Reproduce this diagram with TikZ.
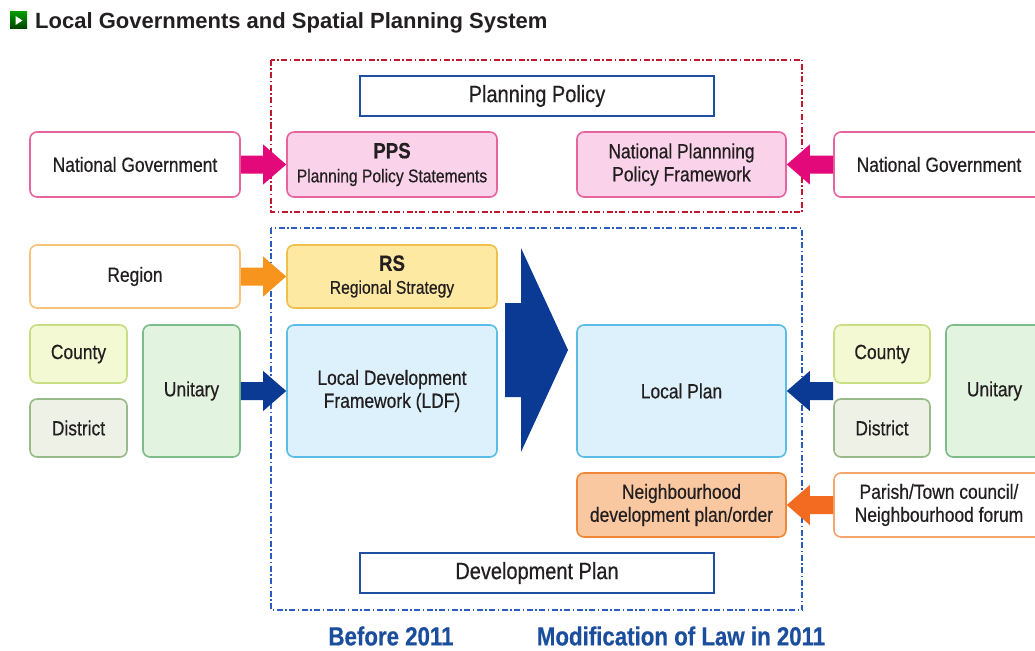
\documentclass[tikz,border=0pt]{standalone}
\usepackage{fontspec}
\setmainfont{Liberation Sans}
\newfontfamily\cond[FakeStretch=0.85,FakeBold=0.5]{Liberation Sans}
\usetikzlibrary{calc}
\definecolor{txt}{HTML}{231F20}
\definecolor{pinkA}{HTML}{E4097A}
\definecolor{pinkB}{HTML}{E8649E}
\definecolor{pinkF}{HTML}{FAD3EA}
\definecolor{orgA}{HTML}{F7941D}
\definecolor{orgB}{HTML}{F7C27A}
\definecolor{yelF}{HTML}{FDE9A1}
\definecolor{yelB}{HTML}{F0C04E}
\definecolor{blueA}{HTML}{0B3A94}
\definecolor{ldfF}{HTML}{DCF1FB}
\definecolor{ldfB}{HTML}{5BBDE6}
\definecolor{cntF}{HTML}{F3F9D2}
\definecolor{cntB}{HTML}{C9DD83}
\definecolor{dstF}{HTML}{EEF2E6}
\definecolor{dstB}{HTML}{98B98A}
\definecolor{uniF}{HTML}{E2F3DF}
\definecolor{uniB}{HTML}{7DBB89}
\definecolor{nbhF}{HTML}{FAC8A0}
\definecolor{nbhB}{HTML}{F0883A}
\definecolor{parB}{HTML}{F5A56D}
\definecolor{parA}{HTML}{F36A21}
\definecolor{hdrB}{HTML}{1F4FA0}
\definecolor{redD}{HTML}{C0182E}
\definecolor{bluD}{HTML}{2B5DC0}
\definecolor{lblB}{HTML}{1C4E9E}
\newcommand\bodyf{\cond\fontsize{20.5}{23}\selectfont}
\newcommand\headf{\cond\fontsize{23.5}{26}\selectfont}
\newcommand\smallf{\cond\fontsize{18.4}{22}\selectfont}
\newcommand\bigbf{\cond\bfseries\fontsize{22}{22}\selectfont}
\newcommand\lblf{\cond\bfseries\fontsize{26.2}{28}\selectfont}
\newcommand\blockarrow[3]{%
  \fill[#3] let \p1=(#1), \p2=(#2), \n1={ifthenelse(\x2>\x1,1,-1)} in
    (\x1,\y1+9pt) -- (\x2-\n1*23pt,\y1+9pt) -- (\x2-\n1*23pt,\y1+20pt) -- (\x2,\y1)
    -- (\x2-\n1*23pt,\y1-20pt) -- (\x2-\n1*23pt,\y1-9pt) -- (\x1,\y1-9pt) -- cycle;}
\tikzset{
  rbox/.style={draw, rounded corners=7pt, line width=1.6pt, align=center,
    font=\bodyf, text=txt, inner sep=0pt},
  hdr/.style={draw=hdrB, fill=white, line width=2.5pt, minimum width=354pt,
    minimum height=40pt, font=\headf, text=txt, inner sep=0pt},
  redbox/.style={draw=redD, line width=2pt, dash pattern=on 6pt off 2.5pt on 1.5pt off 2.5pt},
  bluebox/.style={draw=bluD, line width=2pt, dash pattern=on 6pt off 2.5pt on 1.5pt off 2.5pt},
  lbl/.style={font=\lblf, text=lblB, inner sep=0pt}
}
\begin{document}
\begin{tikzpicture}[x=1pt,y=-1pt]
\useasboundingbox (0,0) rectangle (1035,650);
\clip (0,0) rectangle (1035,650);
\fill[white] (0,0) rectangle (1035,650);
% title
\shade[top color=green!60!black, bottom color=green!25!black] (10,12) rectangle (27,29);
\fill[white] (15.5,16) -- (15.5,25) -- (22.5,20.5) -- cycle;
\node[anchor=base west, inner sep=0pt, text=txt, font=\bfseries\fontsize{22}{24}\selectfont] (title) at (35,28.5) {Local Governments and Spatial Planning System};
% dashed frames
\draw[redbox] (271,60) rectangle (802,212);
\draw[bluebox] (271,228) rectangle (802,610);
% headers
\node[hdr] (pp) at (537,96) {Planning Policy};
\node[hdr] (dp) at (537,573) {Development Plan};
% top row
\node[rbox, draw=pinkB, fill=white, minimum width=210pt, minimum height=65pt] (ngL) at (135,164.5) {National Government};
\node[rbox, draw=pinkB, fill=pinkF, minimum width=210pt, minimum height=65pt] (pps) at (392,164.5) {{\bigbf PPS}\\[1pt]{\smallf Planning Policy Statements}};
\node[rbox, draw=pinkB, fill=pinkF, minimum width=209pt, minimum height=65pt] (nppf) at (681.5,164.5) {National Plannning\\Policy Framework};
\node[rbox, draw=pinkB, fill=white, minimum width=210pt, minimum height=65pt] (ngR) at (939,164.5) {National Government};
% region row
\node[rbox, draw=orgB, fill=white, minimum width=210pt, minimum height=63pt] (region) at (135,276.5) {Region};
\node[rbox, draw=yelB, fill=yelF, minimum width=210pt, minimum height=63pt] (rs) at (392,276.5) {{\bigbf RS}\\[0pt]{\smallf Regional Strategy}};
% left local
\node[rbox, draw=cntB, fill=cntF, minimum width=97pt, minimum height=58pt] (countyL) at (78.5,354) {County};
\node[rbox, draw=dstB, fill=dstF, minimum width=97pt, minimum height=58pt] (districtL) at (78.5,428) {District};
\node[rbox, draw=uniB, fill=uniF, minimum width=97pt, minimum height=132pt] (unitL) at (191.5,391) {Unitary};
\node[rbox, draw=ldfB, fill=ldfF, minimum width=210pt, minimum height=132pt] (ldf) at (392,391) {Local Development\\Framework (LDF)};
% right local
\node[rbox, draw=ldfB, fill=ldfF, minimum width=209pt, minimum height=132pt] (lp) at (681.5,391) {Local Plan};
\node[rbox, draw=cntB, fill=cntF, minimum width=96pt, minimum height=58pt] (countyR) at (882,354) {County};
\node[rbox, draw=dstB, fill=dstF, minimum width=96pt, minimum height=58pt] (districtR) at (882,428) {District};
\node[rbox, draw=uniB, fill=uniF, minimum width=97pt, minimum height=132pt] (unitR) at (994.5,391) {Unitary};
\node[rbox, draw=nbhB, fill=nbhF, minimum width=209pt, minimum height=64pt] (nbh) at (681.5,505) {Neighbourhood\\development plan/order};
\node[rbox, draw=parB, fill=white, minimum width=210pt, minimum height=64pt] (parish) at (939,505) {Parish/Town council/\\Neighbourhood forum};
\coordinate (cdR) at ($(countyR.south west)!0.5!(districtR.north west)$);
% arrows
\blockarrow{ngL.east}{pps.west}{pinkA}
\blockarrow{ngR.west}{nppf.east}{pinkA}
\blockarrow{region.east}{rs.west}{orgA}
\blockarrow{unitL.east}{ldf.west}{blueA}
\blockarrow{cdR}{lp.east}{blueA}
\blockarrow{parish.west}{nbh.east}{parA}
% big transition arrow
\fill[blueA] (505,303) -- (521,303) -- (521,248) -- (568,350) -- (521,452) -- (521,397) -- (505,397) -- cycle;
% labels
\node[lbl] (before) at (391,636) {Before 2011};
\node[lbl] (mod) at (681,636) {Modification of Law in 2011};
\end{tikzpicture}
\end{document}
